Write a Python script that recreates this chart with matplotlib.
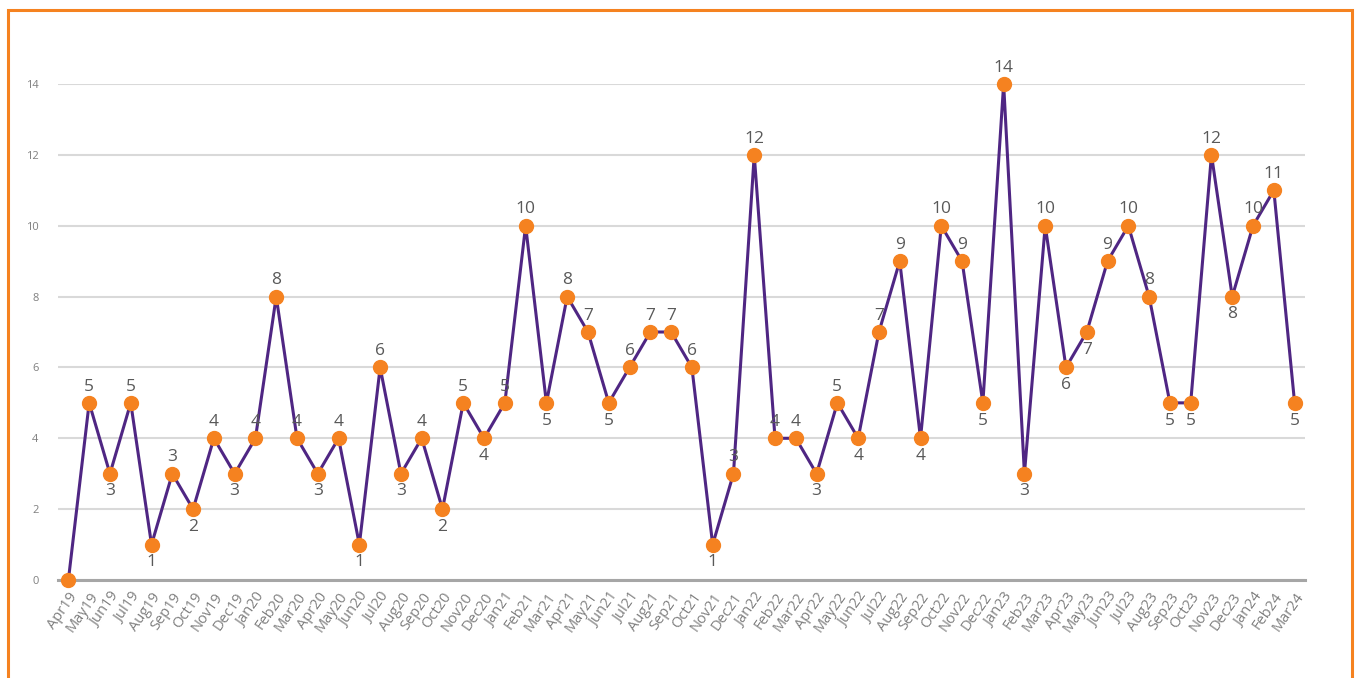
import matplotlib.pyplot as plt
from matplotlib.patches import Rectangle

months = ['Apr19', 'May19', 'Jun19', 'Jul19', 'Aug19', 'Sep19', 'Oct19', 'Nov19', 'Dec19',
          'Jan20', 'Feb20', 'Mar20', 'Apr20', 'May20', 'Jun20', 'Jul20', 'Aug20', 'Sep20',
          'Oct20', 'Nov20', 'Dec20', 'Jan21', 'Feb21', 'Mar21', 'Apr21', 'May21', 'Jun21',
          'Jul21', 'Aug21', 'Sep21', 'Oct21', 'Nov21', 'Dec21', 'Jan22', 'Feb22', 'Mar22',
          'Apr22', 'May22', 'Jun22', 'Jul22', 'Aug22', 'Sep22', 'Oct22', 'Nov22', 'Dec22',
          'Jan23', 'Feb23', 'Mar23', 'Apr23', 'May23', 'Jun23', 'Jul23', 'Aug23', 'Sep23',
          'Oct23', 'Nov23', 'Dec23', 'Jan24', 'Feb24', 'Mar24']
counts = [0, 5, 3, 5, 1, 3, 2, 4, 3,
          4, 8, 4, 3, 4, 1, 6, 3, 4,
          2, 5, 4, 5, 10, 5, 8, 7, 5,
          6, 7, 7, 6, 1, 3, 12, 4, 4,
          3, 5, 4, 7, 9, 4, 10, 9, 5,
          14, 3, 10, 6, 7, 9, 10, 8, 5,
          5, 12, 8, 10, 11, 5]
# months whose value label sits under the marker
below = {'Jun19', 'Aug19', 'Oct19', 'Dec19', 'Apr20', 'Jun20', 'Aug20', 'Oct20', 'Dec20',
         'Mar21', 'Jun21', 'Nov21', 'Apr22', 'Jun22', 'Sep22', 'Dec22', 'Feb23', 'Apr23',
         'May23', 'Sep23', 'Oct23', 'Dec23', 'Mar24'}

plt.rcParams['font.family'] = ['Open Sans', 'DejaVu Sans']

fig = plt.figure(figsize=(13.57, 6.78), dpi=100)
ax = fig.add_axes([58/1357, 98/678, (1305-58)/1357, (580-84)/678])

x = list(range(len(months)))
ax.plot(x, counts, color='#4f2683', lw=2.2, marker='o', ms=10,
        mfc='#f58220', mec='#f58220', zorder=3, clip_on=False)

for i, (m, v) in enumerate(zip(months, counts)):
    if v == 0:
        continue
    if m in below:
        ax.annotate(str(v), (i, v), xytext=(0, -7), textcoords='offset points',
                    ha='center', va='top', fontsize=12.5, color='#595959')
    else:
        ax.annotate(str(v), (i, v), xytext=(0, 6), textcoords='offset points',
                    ha='center', va='bottom', fontsize=12.5, color='#595959')

ax.set_xlim(-0.5, len(months) - 0.5)
ax.set_ylim(0, 14)
ax.set_yticks(range(0, 15, 2))
ax.set_xticks(x)
ax.set_xticklabels(months, rotation=55, ha='right', rotation_mode='anchor')
ax.tick_params(axis='x', length=0, labelsize=10.5, labelcolor='#7f7f7f', pad=7)
ax.tick_params(axis='y', length=0, labelsize=8, labelcolor='#7f7f7f', pad=14)
ax.grid(axis='y', color='#d9d9d9', lw=1.5)
ax.set_axisbelow(True)
for s in ['top', 'right', 'left']:
    ax.spines[s].set_visible(False)
ax.spines['bottom'].set_color('#a6a6a6')
ax.spines['bottom'].set_linewidth(2.2)

fig.patches.append(Rectangle((8/1357, -0.05), (1352-8)/1357, (668/678) + 0.05,
                             transform=fig.transFigure, fill=False,
                             edgecolor='#f58220', lw=2.2, zorder=0))

fig.savefig('out.png', dpi=100)
